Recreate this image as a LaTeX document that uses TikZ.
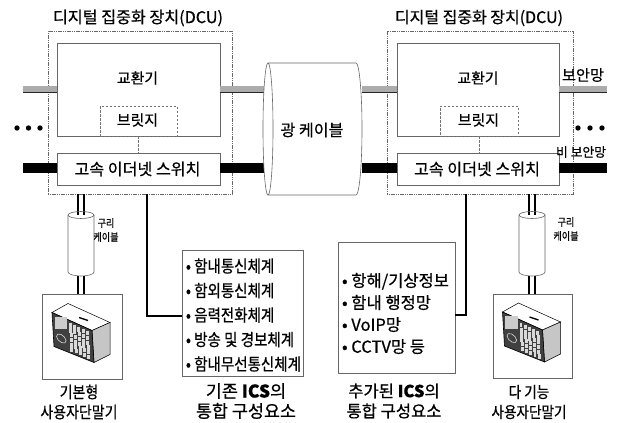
\documentclass[tikz,border=0pt]{standalone}
\usepackage{fontspec}
\usepackage{graphicx}
\setmainfont{Noto Sans CJK KR}[FakeBold=0.6]
\newfontfamily\krtall{Noto Sans CJK KR}[FakeStretch=0.86, FakeBold=0.6]
\usetikzlibrary{calc}

% scale a one-line text to a given width
\newcommand\fitw[2]{\resizebox{#1pt}{!}{#2}}
% font size (in pt) at which a text is #2 pt wide
\newlength\probe
\newcommand\fitsize[3]{\settowidth\probe{\fontsize{10}{12}\selectfont#3}%
  \pgfmathsetmacro#1{10*#2/\probe}}

\tikzset{
  every node/.style={inner sep=0pt, outer sep=0pt},
  dcubox/.style={draw=black!60, line width=0.7pt, dash pattern=on 1.2pt off 0.6pt},
  unitbox/.style={draw=black!60, line width=0.7pt, fill=white},
  bridgebox/.style={draw=black!55, dash pattern=on 2.5pt off 1.5pt, line width=0.6pt, fill=white},
  listbox/.style={draw=black!60, line width=0.7pt},
  secbar/.style={draw=black!85, line width=0.7pt, double=gray!65, double distance=5.6pt},
  plainbar/.style={line width=10pt, black},
  wire/.style={line width=2pt, black},
  trunk/.style={line width=1.8pt, black},
  thinline/.style={draw=black!60, line width=0.6pt},
  dotmark/.style={fill=black},
  pics/deskunit/.style={code={
    % top face, side face, keypad face
    \filldraw[draw=black, line width=0.5pt, fill=white]
      (-30,-24) -- (-14,-33) -- (28,-14) -- (10,-6) -- cycle;
    \filldraw[draw=black, line width=0.5pt, fill=gray!45]
      (10,-6) -- (28,-14) -- (28,18) -- (12,26) -- cycle;
    \filldraw[draw=black, line width=0.6pt, fill=black!75]
      (-30,-24) -- (10,-6) -- (12,26) -- (-28,10) -- cycle;
    \draw[line width=1.4pt] (-3,-19) -- (6,-16);
    \begin{scope}[shift={(-30,-24)}, x={(40pt,-18pt)}, y={(2pt,-34pt)}]
      \foreach \i in {0,...,4}
        \foreach \j in {0,...,5}
          \fill[black!15] ({0.42+0.105*\i},{0.1+0.14*\j}) rectangle ++(0.07,0.09);
      \draw[black!15, line width=0.6pt] (0.2,0.66) circle[radius=0.12];
      \fill[black!20] (0.06,0.1) rectangle (0.36,0.3);
    \end{scope}
  }},
}

\begin{document}
% font sizes of the multi-line texts
\fitsize\szListA{115}{\krtall • 함내무선통신체계}%
\fitsize\szListB{107}{• 항해/기상정보}%
\fitsize\szCapA{100}{통합 구성요소}%
\fitsize\szCapB{95}{통합 구성요소}%
\fitsize\szTermA{77}{\krtall 사용자단말기}%
\fitsize\szTermB{75}{\krtall 사용자단말기}%
\fitsize\szCu{25}{\krtall 케이블}%
\begin{tikzpicture}[x=1pt, y=-1pt]
\useasboundingbox (0,0) rectangle (627,423);

% ---- digital concentration units ----
\node[dcubox, minimum width=184pt, minimum height=163pt] (dcuL) at (140,112.5) {};
\node (ttlL) at (138,18) {\fitw{170}{디지털 집중화 장치(DCU)}};
\node[unitbox, minimum width=163pt, minimum height=93pt] (xchL) at (138.5,89.5) {};
\node (xchLt) at (137.5,78) {\fitw{41}{교환기}};
\node[bridgebox, minimum width=77pt, minimum height=30pt] (brL) at (138.5,121) {};
\node (brLt) at (137.5,120) {\fitw{41}{브릿지}};
\node[unitbox, minimum width=163pt, minimum height=32pt] (swL) at (138.5,169) {};
\node (swLt) at (137.5,169) {\fitw{126}{고속 이더넷 스위치}};
\draw[bridgebox] (brL.south) -- (swL.north);

\node[dcubox, minimum width=186pt, minimum height=163pt] (dcuR) at (480,112.5) {};
\node (ttlR) at (479,18) {\fitw{168}{디지털 집중화 장치(DCU)}};
\node[unitbox, minimum width=162pt, minimum height=93pt] (xchR) at (478,89.5) {};
\node (xchRt) at (478,78) {\fitw{41}{교환기}};
\node[bridgebox, minimum width=78pt, minimum height=30pt] (brR) at (479,121) {};
\node (brRt) at (478.5,120) {\fitw{41}{브릿지}};
\node[unitbox, minimum width=162pt, minimum height=32pt] (swR) at (478,169) {};
\node (swRt) at (477,169) {\fitw{126}{고속 이더넷 스위치}};
\draw[bridgebox] (brR.south) -- (brR.south |- swR.north);

% ---- optical cable ----
\node[minimum width=94pt, minimum height=132pt] (fiber) at (315,129) {};
\draw[thinline, fill=white] (268,63) -- (356,63)
  arc[start angle=-90, end angle=90, x radius=6, y radius=66] -- (268,195);
\node (fibert) at (312,130) {\fitw{63}{광 케이블}};

% ---- network trunks ----
\coordinate (secW) at (23,89);
\coordinate (secE) at (607,89);
\coordinate (ethW) at (23,167.5);
\coordinate (ethE) at (607,167.5);
\draw[secbar] (secW) -- (secW -| xchL.west);
\draw[secbar] (secW -| xchL.east) -- (secW -| fiber.west);
\draw[secbar] (secE -| fiber.east) -- (secE -| xchR.west);
\draw[secbar] (secE -| xchR.east) -- (secE);
\draw[plainbar] (ethW) -- (ethW -| swL.west);
\draw[plainbar] (ethW -| swL.east) -- (ethW -| fiber.west);
\draw[plainbar] (ethE -| fiber.east) -- (ethE -| swR.west);
\draw[plainbar] (ethE -| swR.east) -- (ethE);
\draw[thinline, fill=white] (fiber.west) ellipse[x radius=5, y radius=66];

\foreach \x in {17,28.5,40} \fill[dotmark] (\x,128) circle[radius=2.7];
\foreach \x in {578,590,602} \fill[dotmark] (\x,128) circle[radius=2.7];
\node (secNet) at (583,75) {\fitw{42}{보안망}};
\node (ethNet) at (581,152) {\fitw{50}{비 보안망}};

% ---- integrated components ----
\node[listbox, minimum width=121pt, minimum height=126pt] (icsA) at (242.5,313) {};
\node[font=\krtall\fontsize{\szListA}{24.5}\selectfont, align=left, anchor=west] (icsAt) at (186,315)
  {• 함내통신체계\\• 함외통신체계\\• 음력전화체계\\• 방송 및 경보체계\\• 함내무선통신체계};
\node[listbox, minimum width=117pt, minimum height=131pt] (icsB) at (396.5,307.5) {};
\node[font=\fontsize{\szListB}{22}\selectfont, align=left, anchor=west] (icsBt) at (342,313.5)
  {• 항해/기상정보\\• 함내 행정망\\• VoIP망\\• CCTV망 등};
\draw[trunk] ([xshift=7pt]dcuL.south) |- ([yshift=-3pt]icsA.west);
\draw[trunk] ([xshift=-14pt]dcuR.south) |- ([yshift=-7.5pt]icsB.east);
\node[font=\fontsize{\szCapA}{20}\selectfont, align=center] (capA) at (246,401)
  {기존 \textbf{ICS}의\\통합 구성요소};
\node[font=\fontsize{\szCapB}{20}\selectfont, align=center] (capB) at (394,401)
  {추가된 \textbf{ICS}의\\통합 구성요소};

% ---- user terminals with copper cables ----
\node[thinline, minimum width=80pt, minimum height=85pt] (termL) at (82,336.5) {};
\node[thinline, minimum width=79pt, minimum height=84pt] (termR) at (532.5,336) {};
\node[minimum width=26pt, minimum height=64pt] (cuL) at (81,244) {};
\node[minimum width=26pt, minimum height=64pt] (cuR) at (532,244) {};
\foreach \cu/\dcu/\term in {cuL/dcuL/termL, cuR/dcuR/termR}
  \foreach \dx in {-3.3,3.3}
    \draw[wire] let \p1=(\cu.north), \p2=(\dcu.south), \p3=(\term.north)
      in ({\x1+\dx*1pt},\y2) -- ({\x1+\dx*1pt},\y3);
\foreach \cu in {cuL, cuR} {
  \draw[thinline, fill=white] ([yshift=-3pt]\cu.north west) -- ([yshift=4pt]\cu.south west)
    arc[start angle=180, end angle=0, x radius=13, y radius=4] -- ([yshift=-3pt]\cu.north east);
  \draw[thinline] ([yshift=-3pt]\cu.north) ellipse[x radius=13, y radius=3.5];
}
\node[font=\krtall\fontsize{\szCu}{14}\selectfont, align=center] (cuLt) at (106,230) {구리\\케이블};
\node[font=\krtall\fontsize{\szCu}{14}\selectfont, align=center] (cuRt) at (566,229) {구리\\케이블};
\pic at (termL.center) {deskunit};
\pic at (termR.center) {deskunit};
\node[font=\krtall\fontsize{\szTermA}{20}\selectfont, align=center] (capL) at (79,402)
  {기본형\\사용자단말기};
\node[font=\krtall\fontsize{\szTermB}{20}\selectfont, align=center] (capR) at (529,402)
  {다 기능\\사용자단말기};
\end{tikzpicture}
\end{document}
